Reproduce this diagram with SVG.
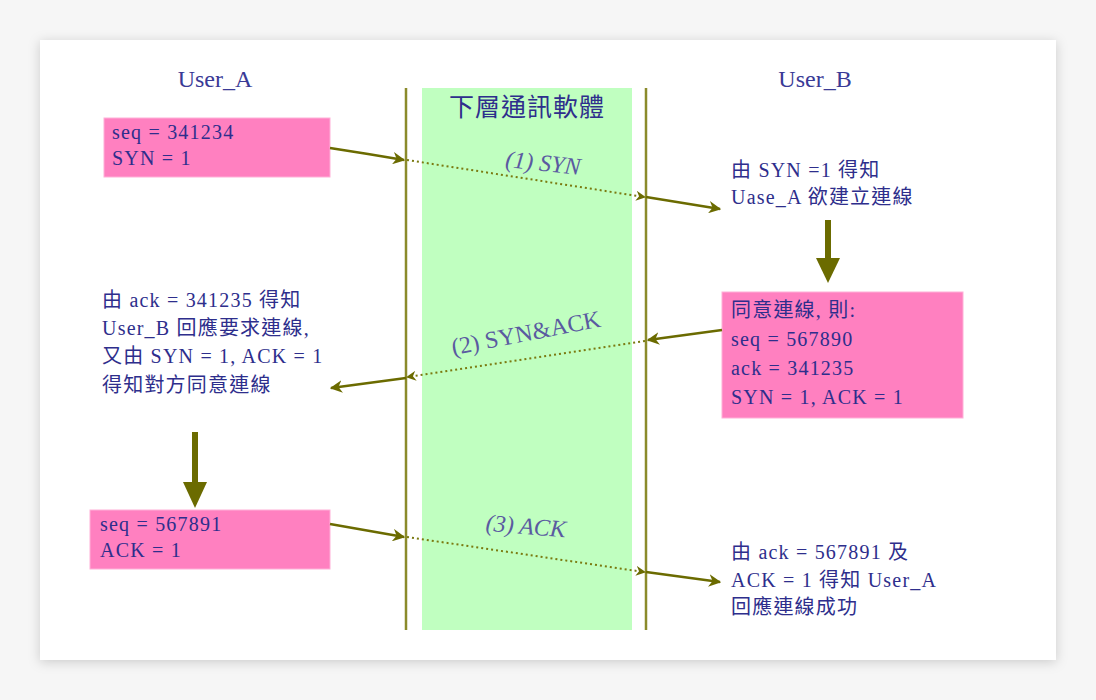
<svg xmlns="http://www.w3.org/2000/svg" width="1096" height="700" viewBox="0 0 1096 700">
<defs>
<filter id="sh" x="-5%" y="-5%" width="110%" height="110%">
<feDropShadow dx="0" dy="2" stdDeviation="6" flood-color="#000" flood-opacity="0.18"/>
</filter>
<marker id="ah" viewBox="0 0 10 10" refX="9" refY="5" markerWidth="5" markerHeight="5" orient="auto-start-reverse" markerUnits="strokeWidth">
<path d="M0,0 L10,5 L0,10 L3,5 z" fill="#6b6b00"/>
</marker>
<marker id="bh" viewBox="0 0 10 10" refX="8" refY="5" markerWidth="5" markerHeight="5" orient="auto" markerUnits="strokeWidth">
<path d="M0,0 L10,5 L0,10 L3,5 z" fill="#6b6b00"/>
</marker>
</defs>
<style>
.t{font-family:"Liberation Serif","Noto Sans CJK TC",serif;font-size:20px;letter-spacing:1.2px;fill:#2e2e8c}
.h{font-family:"Liberation Serif","Noto Sans CJK TC",serif;font-size:24px;fill:#3a3a96}
.lbl{font-family:"Liberation Serif","Noto Sans CJK TC",serif;font-size:24px;fill:#5a5aa0;font-style:italic}
.box{fill:#ff80c0;stroke:#ffb0d8;stroke-width:1}
.sol{stroke:#6b6b00;stroke-width:2.5;fill:none}
.dot{stroke:#7a7a10;stroke-width:2;fill:none;stroke-dasharray:2 3}
.big{stroke:#6b6b00;stroke-width:6;fill:none}
.vl{stroke:#8b8b2b;stroke-width:2.5}
</style>
<rect width="1096" height="700" fill="#f6f6f6"/>
<rect x="40" y="40" width="1016" height="620" fill="#fff" filter="url(#sh)"/>
<rect x="422" y="88" width="210" height="542" fill="#c0ffc0"/>
<g id="lifelines">
<line class="vl" x1="406" y1="88" x2="406" y2="630"/>
<line class="vl" x1="646" y1="88" x2="646" y2="630"/>
</g>
<g id="headers">
<text class="h" x="215" y="87" text-anchor="middle">User_A</text>
<text class="h" x="815" y="87" text-anchor="middle">User_B</text>
<text class="h" x="527" y="116" text-anchor="middle" style="fill:#2e2e8c;font-size:25px;letter-spacing:1px">下層通訊軟體</text>
</g>
<g id="box1">
<rect class="box" x="104" y="118" width="226" height="59"/>
<text class="t" x="112" y="139">seq = 341234</text>
<text class="t" x="112" y="165">SYN = 1</text>
</g>
<g id="note1">
<text class="t" x="731" y="177">由 SYN =1 得知</text>
<text class="t" x="731" y="204">Uase_A 欲建立連線</text>
</g>
<g id="box2">
<rect class="box" x="722" y="292" width="241" height="126"/>
<text class="t" x="731" y="317">同意連線, 則:</text>
<text class="t" x="731" y="346">seq = 567890</text>
<text class="t" x="731" y="375">ack = 341235</text>
<text class="t" x="731" y="404">SYN = 1, ACK = 1</text>
</g>
<g id="note2">
<text class="t" x="102" y="307">由 ack = 341235 得知</text>
<text class="t" x="102" y="335">User_B 回應要求連線,</text>
<text class="t" x="102" y="363">又由 SYN = 1, ACK = 1</text>
<text class="t" x="102" y="392">得知對方同意連線</text>
</g>
<g id="box3">
<rect class="box" x="90" y="510" width="240" height="59"/>
<text class="t" x="100" y="531">seq = 567891</text>
<text class="t" x="100" y="557">ACK = 1</text>
</g>
<g id="note3">
<text class="t" x="731" y="559">由 ack = 567891 及</text>
<text class="t" x="731" y="587">ACK = 1 得知 User_A</text>
<text class="t" x="731" y="614">回應連線成功</text>
</g>
<g id="labels">
<text class="lbl" x="543" y="171" text-anchor="middle" transform="rotate(6 543 163)">(1) SYN</text>
<text class="lbl" x="526" y="341" text-anchor="middle" transform="rotate(-11 526 333)" style="font-style:normal">(2) SYN&amp;ACK</text>
<text class="lbl" x="526" y="534" text-anchor="middle" transform="rotate(5 526 526)">(3) ACK</text>
</g>
<g id="connectors">
<polyline class="sol" points="330,148 368,154 404,160" marker-end="url(#ah)"/>
<line class="dot" x1="407" y1="160" x2="644" y2="197" marker-end="url(#bh)"/>
<line class="sol" x1="646" y1="197" x2="720" y2="209" marker-end="url(#ah)"/>
<line class="sol" x1="722" y1="330" x2="648" y2="340" marker-end="url(#ah)"/>
<line class="dot" x1="645" y1="341" x2="408" y2="377" marker-end="url(#bh)"/>
<line class="sol" x1="406" y1="378" x2="331" y2="388" marker-end="url(#ah)"/>
<line class="sol" x1="330" y1="524" x2="404" y2="537" marker-end="url(#ah)"/>
<line class="dot" x1="407" y1="537" x2="644" y2="572" marker-end="url(#bh)"/>
<line class="sol" x1="646" y1="572" x2="720" y2="582" marker-end="url(#ah)"/>
<line class="big" x1="828" y1="220" x2="828" y2="262"/>
<path d="M816,258 L840,258 L828,283 z" fill="#6b6b00"/>
<line class="big" x1="195" y1="432" x2="195" y2="486"/>
<path d="M183,482 L207,482 L195,508 z" fill="#6b6b00"/>
</g>
</svg>
